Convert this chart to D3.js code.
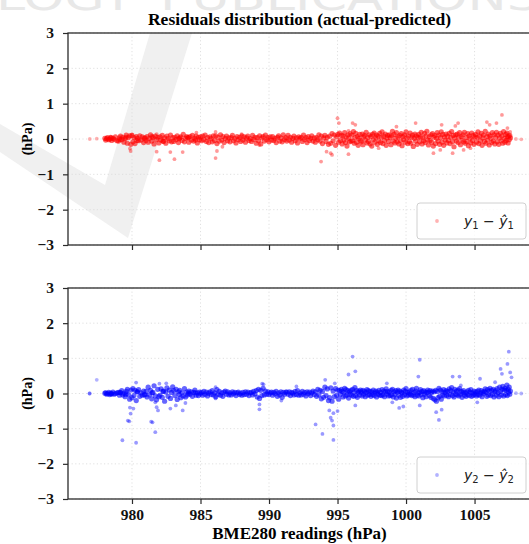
<!DOCTYPE html>
<html lang="en">
<head>
<meta charset="utf-8"/>
<title>Residuals distribution</title>
<script src="https://d3js.org/d3.v7.min.js"></script>
<style>
  body { margin: 0; background: #fff; }
  svg { display: block; }
</style>
</head>
<body>
<div id="chart"></div>
<script>
// BME280 readings (hPa) shared by both panels, with the residual of each model
var pressure = [
  978.02, 978.08, 978.15, 978.21, 978.30, 978.37, 978.44, 978.52, 978.61, 978.70, 978.79, 978.90,
  979.01, 979.09, 979.16, 979.25, 979.33, 979.41, 979.50, 979.58, 979.66, 979.74, 979.83, 979.92,
  980.00, 980.07, 980.14, 980.22, 980.31, 980.40, 980.48, 980.57, 980.66, 980.75, 980.85, 980.94,
  981.02, 981.10, 981.18, 981.27, 981.35, 981.44, 981.53, 981.61, 981.70, 981.79, 981.88, 981.96,
  982.04, 982.12, 982.21, 982.30, 982.38, 982.47, 982.55, 982.63, 982.72, 982.81, 982.89, 982.97,
  983.05, 983.13, 983.22, 983.30, 983.39, 983.48, 983.56, 983.65, 983.74, 983.83, 983.91, 983.99,
  984.06, 984.15, 984.24, 984.33, 984.41, 984.50, 984.59, 984.68, 984.77, 984.85, 984.93, 985.00,
  985.08, 985.16, 985.25, 985.34, 985.43, 985.51, 985.60, 985.69, 985.77, 985.86, 985.94, 986.03,
  986.11, 986.20, 986.28, 986.37, 986.46, 986.55, 986.63, 986.72, 986.81, 986.90, 986.98, 987.07,
  987.15, 987.24, 987.33, 987.41, 987.50, 987.59, 987.67, 987.76, 987.85, 987.93, 988.02, 988.10,
  988.19, 988.28, 988.36, 988.45, 988.54, 988.62, 988.71, 988.80, 988.88, 988.97, 989.06, 989.14,
  989.23, 989.31, 989.40, 989.48, 989.57, 989.66, 989.74, 989.83, 989.92, 990.00, 990.09, 990.18,
  990.26, 990.35, 990.44, 990.52, 990.61, 990.70, 990.78, 990.87, 990.96, 991.04, 991.13, 991.22,
  991.30, 991.39, 991.48, 991.56, 991.65, 991.74, 991.82, 991.91, 992.00, 992.08, 992.17, 992.26,
  992.34, 992.43, 992.52, 992.60, 992.69, 992.78, 992.86, 992.95, 993.04, 993.12, 993.21, 993.30,
  993.38, 993.47, 993.56, 993.64, 993.73, 993.82, 993.90, 993.99, 994.08, 994.16, 994.25, 994.34,
  994.42, 994.51, 994.60, 994.68, 994.77, 994.86, 994.94, 995.02, 995.08, 995.15, 995.21, 995.28,
  995.34, 995.40, 995.46, 995.52, 995.58, 995.63, 995.69, 995.75, 995.81, 995.87, 995.92, 995.98,
  996.04, 996.10, 996.16, 996.22, 996.27, 996.33, 996.39, 996.45, 996.51, 996.57, 996.62, 996.68,
  996.74, 996.80, 996.86, 996.91, 996.97, 997.03, 997.09, 997.15, 997.21, 997.26, 997.32, 997.38,
  997.44, 997.50, 997.56, 997.61, 997.67, 997.73, 997.79, 997.85, 997.90, 997.96, 998.02, 998.08,
  998.14, 998.20, 998.25, 998.31, 998.37, 998.43, 998.49, 998.55, 998.60, 998.66, 998.72, 998.78,
  998.84, 998.90, 998.95, 999.01, 999.07, 999.13, 999.19, 999.25, 999.30, 999.36, 999.42, 999.48,
  999.54, 999.60, 999.65, 999.71, 999.77, 999.83, 999.89, 999.95, 1000.00, 1000.06, 1000.12, 1000.18,
  1000.24, 1000.30, 1000.35, 1000.41, 1000.47, 1000.53, 1000.59, 1000.65, 1000.70, 1000.76, 1000.82, 1000.88,
  1000.94, 1001.00, 1001.05, 1001.11, 1001.17, 1001.23, 1001.29, 1001.35, 1001.40, 1001.46, 1001.52, 1001.58,
  1001.64, 1001.70, 1001.75, 1001.81, 1001.87, 1001.93, 1001.99, 1002.05, 1002.10, 1002.16, 1002.22, 1002.28,
  1002.34, 1002.40, 1002.45, 1002.51, 1002.57, 1002.63, 1002.69, 1002.75, 1002.80, 1002.86, 1002.92, 1002.98,
  1003.04, 1003.10, 1003.15, 1003.21, 1003.27, 1003.33, 1003.39, 1003.45, 1003.50, 1003.56, 1003.62, 1003.68,
  1003.74, 1003.80, 1003.85, 1003.91, 1003.97, 1004.03, 1004.09, 1004.15, 1004.20, 1004.26, 1004.32, 1004.38,
  1004.44, 1004.50, 1004.55, 1004.61, 1004.67, 1004.73, 1004.79, 1004.85, 1004.90, 1004.96, 1005.02, 1005.08,
  1005.14, 1005.20, 1005.25, 1005.31, 1005.37, 1005.43, 1005.49, 1005.55, 1005.60, 1005.66, 1005.72, 1005.78,
  1005.84, 1005.90, 1005.95, 1006.01, 1006.07, 1006.13, 1006.19, 1006.25, 1006.30, 1006.36, 1006.42, 1006.48,
  1006.54, 1006.60, 1006.65, 1006.71, 1006.77, 1006.83, 1006.89, 1006.95, 1007.00, 1007.06, 1007.12, 1007.18,
  1007.22, 1007.27, 1007.31, 1007.36, 1007.40, 1007.45, 1007.49, 1007.53, 1007.57, 1007.62, 1008.02, 1008.41,
  976.92, 977.43, 978.48, 979.12, 979.55, 980.36, 980.91, 981.47, 982.26, 983.44, 984.12, 984.63
];
var resid1 = [
  .02,-.03,.01,.04,-.02,.00,.05,-.04,.02,-.01,.06,-.05,
  -.06,.03,.08,-.02,.05,-.09,.01,.11,-.12,.04,.09,-.15,
  .10,-.08,.04,-.13,.07,.02,-.05,.09,-.03,.06,-.10,.03,
  -.04,.07,-.09,.02,.12,-.06,.04,-.14,.08,-.02,.05,-.11,
  .06,-.03,.10,-.07,.03,-.12,.08,.01,-.05,.11,-.08,.04,
  -.07,.05,-.02,.09,-.10,.03,.06,-.04,.13,-.08,.02,.07,
  .04,-.09,.07,-.03,.10,-.06,.02,.08,-.11,.05,-.02,.06,
  -.05,.08,-.02,.11,-.07,.04,-.10,.06,.01,-.08,.09,-.04,
  .09,-.13,.05,-.06,.12,-.03,.07,-.10,.02,.08,-.05,.03,
  -.08,.04,.10,-.05,.02,-.11,.07,-.02,.05,-.07,.09,-.03,
  .06,-.09,.03,.08,-.04,.01,-.07,.10,-.02,.05,-.12,.04,
  -.05,.09,-.14,.03,.07,-.06,.11,-.02,.04,-.08,.06,-.03,
  .07,-.04,.02,-.10,.05,.09,-.06,.03,-.08,.12,-.02,.04,
  -.06,.10,-.03,.05,-.09,.02,.08,-.05,.03,-.11,.06,.01,
  .05,-.07,.11,-.02,.04,-.10,.07,-.04,.02,.09,-.06,.03,
  -.09,.04,-.02,.12,-.06,.08,-.13,.03,.10,-.07,.05,-.15,
  .08,-.12,.15,-.05,.11,-.18,.06,.13,-.09,.17,-.04,.10,
  -.14,.09,-.03,.18,-.10,.05,-.20,.12,.02,-.08,.15,-.06,
  .11,-.05,.21,-.12,.04,.16,-.09,.07,-.18,.02,.13,-.04,
  -.08,.14,-.16,.06,.10,-.03,.19,-.11,.05,-.07,.12,-.14,
  .07,-.20,.13,-.02,.17,-.09,.04,.11,-.15,.08,-.05,.16,
  -.10,.05,.20,-.13,.08,-.04,.14,-.18,.03,.10,-.07,.12,
  .04,-.16,.09,.22,-.06,.13,-.11,.02,.18,-.08,.06,-.14,
  .10,-.05,.15,-.19,.07,-.02,.12,-.09,.20,.03,-.13,.08,
  -.07,.17,-.12,.05,.11,-.21,.02,.14,-.06,.09,-.15,.04,
  .13,-.08,.06,.19,-.14,.03,-.05,.16,-.10,.08,.22,-.03,
  -.17,.07,-.04,.12,-.09,.15,-.20,.05,.10,-.13,.02,.18,
  -.06,.11,-.15,.04,.20,-.09,.13,-.18,.06,-.03,.14,-.11,
  .08,-.04,.16,-.13,.05,.21,-.08,.10,-.22,.03,.12,-.06,
  .14,-.10,.05,.18,-.16,.07,-.03,.12,-.08,.19,-.12,.04,
  -.07,.15,-.19,.09,.02,-.11,.17,-.04,.10,-.15,.06,.13,
  -.09,.04,.20,-.13,.08,-.05,.16,-.18,.03,.11,-.07,.22,
  -.12,.07,-.03,.14,-.17,.09,.02,-.10,.18,-.06,.12,-.14,
  .05,.19,-.08,.11,-.15,.03,.16,-.05,.09,-.12,.21,.02,
  -.09,.13,-.04,.17,.06,-.11,.08,-.02,.10,.03,.00,-.01,
  .00,.01,.03,-.02,.05,-.04,.02,.07,-.06,.01,.04,-.03
];
var resid2 = [
  .01,.02,-.02,.00,.03,-.03,.01,-.01,.04,-.02,.00,.02,
  .03,-.05,.02,.08,-.04,.01,-.09,.06,.12,-.03,-.16,.10,
  -.12,.14,-.06,.09,-.20,.05,.11,-.08,.02,-.05,.07,-.03,
  .06,-.10,.18,-.04,.09,-.15,.03,.22,-.07,-.18,.12,-.09,
  -.05,.13,-.11,.07,-.22,.04,.16,-.08,.10,-.14,.03,.19,
  .08,-.06,.12,-.17,.05,.09,-.12,.02,-.07,.14,-.10,.04,
  -.04,.07,-.02,.05,-.08,.03,.10,-.05,.02,-.06,.04,-.01,
  .03,-.05,.06,-.02,.04,-.07,.01,.05,-.03,.08,-.04,.02,
  -.09,.11,-.03,.06,-.05,.02,-.08,.04,.07,-.02,.05,-.04,
  .02,-.04,.05,-.01,.03,-.06,.02,.04,-.03,.01,-.05,.03,
  -.03,.05,-.02,.04,-.06,.02,.03,-.04,.06,-.01,.08,-.10,
  .12,-.14,.09,-.06,.15,-.04,.07,-.02,.05,-.03,.02,.04,
  -.05,.03,-.01,.06,-.08,.02,-.04,.05,-.11,.03,-.02,.04,
  .04,-.02,.05,-.06,.03,.01,-.04,.06,-.03,.08,-.05,.02,
  -.04,.06,-.02,.03,-.07,.05,-.01,.04,-.06,.02,.07,-.03,
  .05,-.08,.12,-.04,.09,-.15,.06,-.11,.18,-.06,.13,-.20,
  -.12,.16,-.22,.07,-.09,.14,-.05,.10,-.16,.08,-.03,.12,
  .06,-.10,.03,.15,-.07,.11,-.04,.08,-.13,.05,-.02,.09,
  -.05,.12,-.08,.04,.17,-.06,.09,-.11,.03,.07,-.04,.10,
  .04,-.07,.09,-.02,.06,-.09,.03,.11,-.05,.08,-.03,.06,
  -.08,.05,-.03,.10,-.06,.02,.07,-.10,.04,-.02,.09,-.05,
  .03,-.06,.11,-.04,.07,-.09,.05,.13,-.02,.06,-.07,.04,
  -.06,.09,-.04,.12,-.10,.05,-.02,.08,-.13,.04,.10,-.05,
  .07,-.11,.04,.02,-.08,.10,-.03,.06,.14,-.07,.03,-.04,
  .05,-.02,.09,-.06,.12,-.04,.03,-.09,.07,.15,-.05,.02,
  -.07,.04,.11,-.03,.06,-.12,.08,-.02,.05,-.09,.03,.10,
  .04,-.06,.08,-.11,.03,.07,-.14,.05,-.18,.09,-.22,.06,
  -.12,.15,-.08,.10,-.16,.05,-.04,.11,-.07,.03,.08,-.05,
  .06,-.09,.13,-.03,.08,.17,-.06,.04,-.10,.12,-.02,.07,
  -.04,.10,-.07,.14,-.02,.06,-.11,.03,.08,-.05,.02,-.08,
  .05,-.03,.09,-.06,.04,.11,-.08,.02,-.05,.07,-.02,.04,
  -.07,.06,-.03,.10,-.05,.02,.08,-.09,.04,-.01,.06,.13,
  .03,-.08,.11,-.04,.07,.15,-.06,.09,-.02,.12,-.10,.05,
  .08,-.05,.14,.02,-.09,.18,.06,-.04,.12,.20,-.07,.10,
  .15,-.03,.09,.24,-.06,.12,.04,.18,-.02,.07,.01,.00,
  .00,.39,-.01,.03,-.02,.05,-.04,.02,.06,-.03,.01,.02
];

// points lying away from the band, per panel
var out1P = [979.85, 979.9, 980.0, 981.8, 981.8, 982.0, 982.8, 983.1, 983.7, 984.7, 986.1, 986.1, 986.2, 986.6,
  988.0, 989.3, 993.8, 994.2, 994.5, 994.6, 995.0, 995.1, 995.8, 995.8, 996.1, 996.3, 998.0, 999.3,
  1000.7, 1002.0, 1002.5, 1002.6, 1003.4, 1003.6, 1003.8, 1004.2, 1004.7, 1005.9, 1006.1, 1006.6, 1007.0, 1007.4, 1007.6];
var out1R = [-0.27, -0.34, 0.13, 0.14, -0.36, -0.60, -0.37, -0.57, -0.37, 0.18, -0.54, 0.20, -0.34, -0.22,
  0.14, -0.17, -0.64, -0.36, -0.40, -0.45, 0.59, 0.45, 0.23, -0.43, 0.45, 0.40, -0.26, 0.35,
  0.45, -0.40, -0.31, 0.40, -0.40, 0.37, 0.45, -0.31, -0.26, 0.48, 0.40, 0.45, 0.68, 0.31, 0.20];

var out2P = [976.9, 979.3, 979.7, 979.8, 979.85, 979.9, 980.1, 980.3, 980.3, 981.4, 981.5, 981.7, 981.7, 981.8,
  981.9, 982.0, 982.5, 982.8, 983.2, 983.7, 983.9, 986.1, 986.1, 989.3, 989.3, 989.5, 989.6, 990.9,
  992.0, 993.4, 993.9, 994.1, 994.4, 994.5, 994.6, 994.7, 994.7, 994.7, 994.8, 995.0, 995.8, 996.1,
  996.3, 996.3, 998.6, 999.0, 999.5, 999.8, 1000.9, 1001.0, 1001.0, 1002.2, 1002.4, 1002.6, 1003.4,
  1003.9, 1004.0, 1005.2, 1005.4, 1006.5, 1006.9, 1007.0, 1007.4, 1007.5, 1007.6, 1007.7];
var out2R = [0.00, -1.33, -0.77, -0.79, -0.40, -0.57, -0.43, 0.31, -1.40, -0.80, -0.82, -1.10, -0.25, -0.39,
  -0.48, 0.28, 0.29, -0.43, -0.34, -0.48, -0.27, 0.18, -0.14, -0.45, -0.31, 0.28, 0.26, -0.20,
  0.20, -0.88, -1.15, 0.39, -0.48, -0.69, -0.77, -1.32, -0.56, -0.91, 0.29, -0.50, 0.54, 1.05,
  0.63, -0.34, 0.29, -0.25, -0.41, -0.37, 0.48, 0.96, -0.34, -0.53, -0.75, -0.46, 0.48,
  0.48, 0.23, -0.25, 0.42, 0.32, 0.70, 0.56, 0.84, 1.19, 0.60, 0.46];

var xTicks = [980, 985, 990, 995, 1000, 1005];
var yTicks = [-3, -2, -1, 0, 1, 2, 3];

var w = 529, h = 544;
var left = 68, right = 531;
var serif = "'Liberation Serif', 'DejaVu Serif', serif";

var panels = [
  {top: 33, bottom: 245, band: resid1, outP: out1P, outR: out1R, colour: "#ff0000", sub: "1", labels: false},
  {top: 288, bottom: 499, band: resid2, outP: out2P, outR: out2R, colour: "#0000ff", sub: "2", labels: true}
];

var x = d3.scaleLinear().domain([975.33, 1009.12]).range([left, right]);

var svg = d3.select("#chart").append("svg")
    .attr("width", w)
    .attr("height", h);

svg.append("rect").attr("width", w).attr("height", h).attr("fill", "#fff");

// faint publisher watermark behind the figure
var wm = svg.append("g").attr("fill", "#f0f0f0");
wm.append("path").attr("d", "M0,124 L105,185 L150,33 L192,33 L128,238 L0,152 Z");
wm.append("text").attr("x", -4).attr("y", 10)
    .attr("font-family", "'DejaVu Sans', sans-serif").attr("font-size", 38)
    .attr("textLength", 138).attr("lengthAdjust", "spacingAndGlyphs")
    .attr("fill", "#e8e8e8").text("LOGY");
wm.append("text").attr("x", 160).attr("y", 10)
    .attr("font-family", "'DejaVu Sans', sans-serif").attr("font-size", 38)
    .attr("textLength", 380).attr("lengthAdjust", "spacingAndGlyphs")
    .attr("fill", "#e8e8e8").text("PUBLICATIONS");

svg.append("text")
    .attr("x", (left + right) / 2).attr("y", 25)
    .attr("text-anchor", "middle")
    .attr("font-family", serif).attr("font-weight", "bold").attr("font-size", 17.5)
    .text("Residuals distribution (actual-predicted)");

panels.forEach(function(p, k) {
    var y = d3.scaleLinear().domain([-3, 3]).range([p.bottom, p.top]);
    var g = svg.append("g");

    var clipId = "clip" + k;
    svg.append("clipPath").attr("id", clipId)
      .append("rect").attr("x", left).attr("y", p.top)
      .attr("width", right - left).attr("height", p.bottom - p.top);

    // dotted grid
    g.selectAll("line.gx").data(xTicks).enter().append("line")
        .attr("x1", function(d) { return x(d); }).attr("x2", function(d) { return x(d); })
        .attr("y1", p.top).attr("y2", p.bottom)
        .attr("stroke", "#dcdcdc").attr("stroke-width", 0.9).attr("stroke-dasharray", "1.2,2.4");
    g.selectAll("line.gy").data(yTicks).enter().append("line")
        .attr("x1", left).attr("x2", right)
        .attr("y1", function(d) { return y(d); }).attr("y2", function(d) { return y(d); })
        .attr("stroke", "#dcdcdc").attr("stroke-width", 0.9).attr("stroke-dasharray", "1.2,2.4");

    var pts = g.append("g").attr("clip-path", "url(#" + clipId + ")")
        .attr("fill", p.colour);
    pts.selectAll("circle.band").data(pressure).enter().append("circle")
        .attr("cx", function(d) { return x(d); })
        .attr("cy", function(d, i) { return y(p.band[i]); })
        .attr("r", function(d) { return d < 978 || d > 1008 ? 1.9 : 2.6; })
        .attr("fill-opacity", function(d) { return d < 978 || d > 1008 ? 0.3 : 0.6; });
    pts.selectAll("circle.out").data(p.outP).enter().append("circle")
        .attr("cx", function(d) { return x(d); })
        .attr("cy", function(d, i) { return y(p.outR[i]); })
        .attr("r", 1.9)
        .attr("fill-opacity", 0.4);

    // spines (right one falls just outside the picture)
    g.append("rect").attr("x", left).attr("y", p.top)
        .attr("width", right - left).attr("height", p.bottom - p.top)
        .attr("fill", "none").attr("stroke", "#2b2b2b").attr("stroke-width", 1.3);

    var yAxis = g.append("g").attr("transform", "translate(" + left + ",0)")
        .call(d3.axisLeft(y).tickValues(yTicks).tickSize(5).tickPadding(9).tickFormat(d3.format("d")));
    var xAxis = g.append("g").attr("transform", "translate(0," + p.bottom + ")")
        .call(d3.axisBottom(x).tickValues(xTicks).tickSize(5).tickPadding(5)
            .tickFormat(p.labels ? d3.format("d") : function() { return ""; }));
    [yAxis, xAxis].forEach(function(a) {
        a.select(".domain").remove();
        a.selectAll(".tick line").attr("stroke", "#2b2b2b").attr("stroke-width", 1.2);
        a.selectAll(".tick text").attr("fill", "#111")
            .attr("font-family", serif).attr("font-weight", "bold").attr("font-size", 15.5);
    });

    svg.append("text")
        .attr("transform", "translate(32," + ((p.top + p.bottom) / 2) + ") rotate(-90)")
        .attr("text-anchor", "middle")
        .attr("font-family", serif).attr("font-weight", "bold").attr("font-size", 14)
        .text("(hPa)");

    // legend, lower right
    var lx = 417, ly = p.bottom - 42;
    var lg = svg.append("g");
    lg.append("rect").attr("x", lx).attr("y", ly).attr("width", 109).attr("height", 36)
        .attr("rx", 3).attr("fill", "#fff").attr("fill-opacity", 0.8)
        .attr("stroke", "#d0d0d0").attr("stroke-width", 1);
    lg.append("circle").attr("cx", lx + 20).attr("cy", ly + 18).attr("r", 1.9)
        .attr("fill", p.colour).attr("fill-opacity", 0.3);
    var t = lg.append("text").attr("x", lx + 47).attr("y", ly + 23)
        .attr("font-family", "'DejaVu Sans', sans-serif").attr("font-size", 14).attr("fill", "#222");
    t.append("tspan").attr("font-style", "italic").text("y");
    t.append("tspan").attr("font-size", 10).attr("dy", 3).text(p.sub);
    t.append("tspan").attr("dy", -3).text(" \u2212 ");
    t.append("tspan").attr("font-style", "italic").text("\u0177");
    t.append("tspan").attr("font-size", 10).attr("dy", 3).text(p.sub);
});

svg.append("text")
    .attr("x", (left + right) / 2).attr("y", 539)
    .attr("text-anchor", "middle")
    .attr("font-family", serif).attr("font-weight", "bold").attr("font-size", 17)
    .text("BME280 readings (hPa)");
</script>
</body>
</html>
